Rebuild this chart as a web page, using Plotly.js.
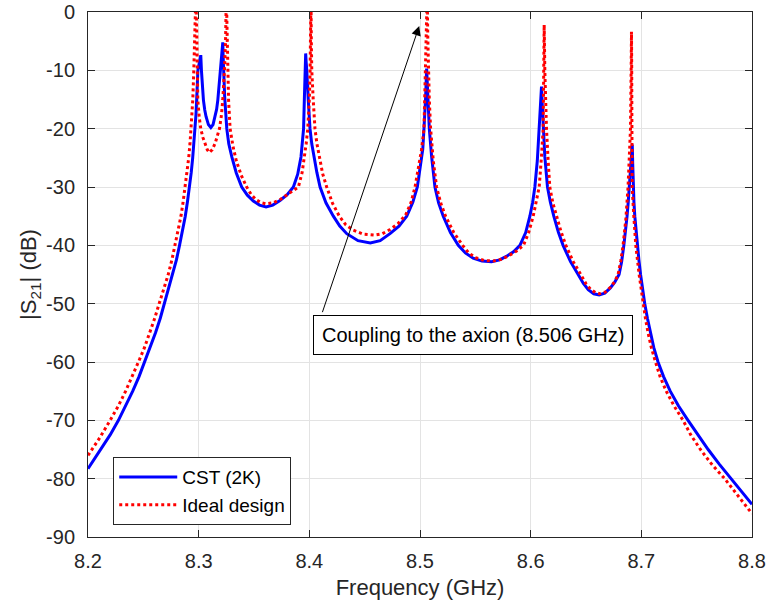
<!DOCTYPE html>
<html>
<head>
<meta charset="utf-8">
<script src="https://cdn.plot.ly/plotly-3.0.1.min.js"></script>
<style>html,body{margin:0;padding:0;background:#fff;}#chart{width:767px;height:604px;}</style>
</head>
<body>
<div id="chart"></div>
<script>
// ---- Data ----
const cstName = 'CST (2K)';
const idealName = 'Ideal design';

const cstFreq = [
  8.2000,8.2118,8.2200,8.2275,8.2342,8.2404,8.2461,8.2510,8.2563,8.2610,8.2653,8.2690,8.2731,8.2767,8.2799,
  8.2827,8.2854,8.2879,8.2899,8.2917,8.2933,8.2946,8.2958,8.2968,8.2976,8.2982,8.2988,8.2993,8.3005,8.3019,
  8.3025,8.3031,8.3043,8.3055,8.3067,8.3088,8.3110,8.3130,8.3149,8.3162,8.3173,8.3187,8.3200,8.3210,8.3218,
  8.3221,8.3224,8.3235,8.3254,8.3272,8.3299,8.3340,8.3389,8.3440,8.3494,8.3550,8.3609,8.3670,8.3735,8.3800,8.3856,
  8.3895,8.3925,8.3938,8.3948,8.3955,8.3961,8.3967,
  8.3971,8.3977,8.3990,8.4006,8.4022,8.4042,8.4068,8.4097,8.4150,8.4217,8.4275,8.4338,8.4440,8.4551,8.4640,8.4729,
  8.4810,8.4880,8.4935,8.4976,8.5010,8.5025,8.5036,8.5045,8.5050,8.5060,
  8.5066,8.5074,8.5084,8.5105,8.5135,8.5168,8.5210,8.5275,8.5346,8.5410,8.5480,8.5560,8.5646,8.5720,8.5780,8.5845,
  8.5903,8.5955,8.5993,8.6018,8.6038,8.6060,8.6077,8.6086,8.6098,
  8.6105,8.6113,8.6128,8.6152,8.6178,8.6209,8.6250,8.6293,8.6360,8.6429,8.6475,8.6520,8.6570,8.6619,8.6670,8.6720,
  8.6760,8.6799,8.6822,8.6842,8.6858,8.6871,8.6882,8.6890,8.6905,8.6918,
  8.6922,8.6926,8.6933,8.6941,8.6952,8.6965,8.6978,8.6993,8.7010,8.7031,8.7055,8.7081,8.7112,8.7151,8.7201,8.7261,
  8.7335,8.7422,8.7512,8.7604,8.7704,8.7814,8.7907,8.8000];
const cstDb = [
  -78.3,-75,-72.5,-70,-67.5,-65,-62.5,-60,-57.5,-55,-52.5,-50,-47.5,-45,-42.5,
  -40,-37.5,-35,-32.5,-30,-27.5,-25,-22.5,-20,-17.5,-15,-12.5,-10,-8.8,-7.4,
  -10,-12.2,-15.1,-16.8,-17.95,-19.3,-19.8,-19.3,-17.95,-16.7,-15.1,-12.2,-9.4,-7.3,-5.2,
  -7.5,-10,-14.5,-20,-22.6,-24.8,-27.6,-30,-31.4,-32.4,-33.1,-33.4,-33.1,-32.3,-31.3,-30,
  -27.8,-24.8,-22.5,-20,-15,-10,-7.1,
  -8.5,-10,-15,-20,-22.6,-24.8,-27.5,-30,-32.7,-35,-36.7,-38,-39.2,-39.6,-39.2,-38,
  -36.7,-35,-32.6,-30,-26,-23.5,-20,-17,-15,-9.7,
  -12.2,-16,-20,-24.8,-30,-32.7,-35,-37.8,-40,-41.3,-42.2,-42.7,-42.8,-42.5,-41.9,-41.1,
  -40,-37.8,-35,-32.6,-30,-25.5,-20,-15.1,-12.8,
  -16,-20,-24.8,-30,-32.6,-35,-37.7,-40,-42.8,-45,-46.5,-47.6,-48.3,-48.5,-48.2,-47.3,
  -46.3,-45,-42.8,-40,-37.5,-35,-32.5,-30,-26,-22.7,
  -26,-30,-32.5,-35,-37.5,-40,-42.5,-45,-47.5,-50,-52.5,-55,-57.5,-60,-62.5,-65,
  -67.5,-70,-72.5,-75,-77.5,-80,-82.2,-84.4];

const idealFreq = [
  8.2000,8.2106,8.2200,8.2275,8.2340,8.2401,8.2456,8.2511,8.2560,8.2603,8.2643,8.2687,8.2725,8.2758,8.2787,8.2816,
  8.2840,8.2860,8.2878,8.2896,8.2910,8.2922,8.2932,8.2947,8.2956,8.2966,8.2975,
  8.2984,8.2992,8.3005,8.3019,8.3038,8.3058,8.3078,8.3097,8.3123,8.3149,8.3170,8.3188,8.3205,8.3218,8.3233,8.3243,8.3250,
  8.3256,8.3260,8.3270,8.3284,8.3310,8.3340,8.3385,8.3434,8.3475,8.3520,8.3565,8.3612,8.3675,8.3740,8.3820,8.3901,
  8.3935,8.3955,8.3972,8.3986,8.4000,8.4007,8.4012,8.4015,
  8.4018,8.4022,8.4035,8.4051,8.4068,8.4088,8.4120,8.4157,8.4210,8.4271,8.4330,8.4397,8.4490,8.4584,8.4660,8.4729,
  8.4800,8.4870,8.4920,8.4955,8.4990,8.5015,8.5036,8.5051,8.5060,8.5065,
  8.5070,8.5075,8.5084,8.5096,8.5120,8.5150,8.5188,8.5231,8.5305,8.5385,8.5440,8.5500,8.5580,8.5661,8.5735,8.5800,
  8.5870,8.5935,8.5982,8.6023,8.6052,8.6077,8.6097,8.6113,8.6118,8.6122,
  8.6125,8.6128,8.6135,8.6143,8.6158,8.6173,8.6200,8.6234,8.6275,8.6318,8.6385,8.6453,8.6500,8.6540,8.6585,8.6625,
  8.6675,8.6720,8.6760,8.6790,8.6815,8.6835,8.6860,8.6880,8.6893,8.6902,8.6908,8.6911,
  8.6913,8.6915,8.6917,8.6932,8.6950,8.6980,8.6997,8.7016,8.7037,8.7061,8.7090,8.7128,8.7169,8.7225,8.7295,8.7377,
  8.7447,8.7534,8.7635,8.7753,8.7875,8.8000];
const idealDb = [
  -76.0,-73,-70,-67.5,-65,-62.5,-60,-57.5,-55,-52.5,-50,-47.5,-45,-42.5,-40,-37.5,
  -35,-32.5,-30,-27.5,-25,-22.5,-20,-15,-10,-5,3,
  -5,-15,-18,-20,-21.5,-22.7,-23.6,-24.1,-23.6,-22.5,-21.2,-20,-17.8,-15,-10,-5,3,
  -5,-10,-15,-20,-23,-25.5,-28,-30,-31.3,-32.2,-32.7,-32.9,-32.7,-32.1,-31.1,-30,
  -27.5,-25,-22.5,-20,-15,-10,-5,3,
  -5,-10,-15,-20,-22.5,-24.8,-27.7,-30,-32.8,-35,-36.5,-37.4,-38.1,-38.25,-38.0,-37.3,
  -36.3,-34.8,-32.6,-30,-26.5,-23.5,-20,-10,-4,3,
  -4,-10,-15,-20,-25.5,-30,-32.8,-35,-37.8,-40,-41.3,-42.1,-42.6,-42.7,-42.4,-41.8,
  -41.0,-40,-37.8,-35,-32.5,-30,-25,-20,-10,-2.2,
  -6,-10,-15,-20,-25.5,-30,-32.7,-35,-37.7,-40,-42.8,-45,-46.6,-47.5,-48.1,-48.3,
  -48.0,-47.2,-46.2,-45,-42.6,-40,-35.5,-30,-25,-20,-10,-3.4,
  -10,-20,-30,-35,-40,-45,-47.5,-50,-52.5,-55,-57.5,-60,-62.5,-65,-67.5,-70,
  -72.5,-75,-77.5,-80,-83,-86.0];

const xTicks = [8.2, 8.3, 8.4, 8.5, 8.6, 8.7, 8.8];
const xTickText = ['8.2', '8.3', '8.4', '8.5', '8.6', '8.7', '8.8'];
const yTicks = [-90, -80, -70, -60, -50, -40, -30, -20, -10, 0];
const yTickText = ['-90', '-80', '-70', '-60', '-50', '-40', '-30', '-20', '-10', '0'];

const noteText = 'Coupling to the axion (8.506 GHz)';
const noteHead = [8.4993, -2.4];
const noteTail = [8.4112, -51.8];
const noteBox = [8.5478, -55.4];

// ---- Chart ----
const FONT = 'Liberation Sans, Arial, Helvetica, sans-serif';
const INK = '#262626';

const traces = [
  {x: cstFreq, y: cstDb, name: cstName, type: 'scatter', mode: 'lines',
   line: {color: '#0000ff', width: 3}},
  {x: idealFreq, y: idealDb, name: idealName, type: 'scatter', mode: 'lines',
   line: {color: '#ff0000', width: 3, dash: 'dot'}}
];

const axisCommon = {
  showline: true, linecolor: INK, linewidth: 1, mirror: 'ticks',
  ticks: 'inside', ticklen: 7, tickcolor: INK, tickwidth: 1,
  showgrid: true, gridcolor: '#e3e3e3', gridwidth: 1, zeroline: false,
  tickfont: {family: FONT, size: 20, color: INK}
};

const layout = {
  width: 767, height: 604,
  margin: {l: 88, r: 15, t: 12, b: 67},
  paper_bgcolor: '#ffffff', plot_bgcolor: '#ffffff',
  font: {family: FONT, color: INK},
  showlegend: true,
  xaxis: Object.assign({}, axisCommon, {
    range: [8.2, 8.8], tickmode: 'array', tickvals: xTicks, ticktext: xTickText,
    ticklabelstandoff: 6,
    title: {text: 'Frequency (GHz)', font: {family: FONT, size: 22, color: INK}, standoff: 8}
  }),
  yaxis: Object.assign({}, axisCommon, {
    range: [-90, 0], tickmode: 'array', tickvals: yTicks, ticktext: yTickText,
    ticklabelstandoff: 8,
    title: {text: '|S<sub>21</sub>| (dB)', font: {family: FONT, size: 22, color: INK}, standoff: 3}
  }),
  legend: {
    x: 0.038, y: 0.152, xanchor: 'left', yanchor: 'top',
    bgcolor: '#ffffff', bordercolor: INK, borderwidth: 1,
    itemwidth: 58,
    font: {family: FONT, size: 19, color: '#000000'}, tracegroupgap: 0
  },
  annotations: [
    {x: noteHead[0], y: noteHead[1], xref: 'x', yref: 'y',
     ax: noteTail[0], ay: noteTail[1], axref: 'x', ayref: 'y',
     text: ' ', font: {size: 1}, showarrow: true,
     arrowhead: 2, arrowsize: 1.9, arrowwidth: 1, arrowcolor: '#000000'},
    {x: noteBox[0], y: noteBox[1], xref: 'x', yref: 'y', showarrow: false,
     text: noteText, font: {family: FONT, size: 20, color: '#000000'},
     bgcolor: '#ffffff', bordercolor: '#000000', borderwidth: 1, borderpad: 8}
  ]
};

Plotly.newPlot('chart', traces, layout, {displayModeBar: false, staticPlot: true});
</script>
</body>
</html>
